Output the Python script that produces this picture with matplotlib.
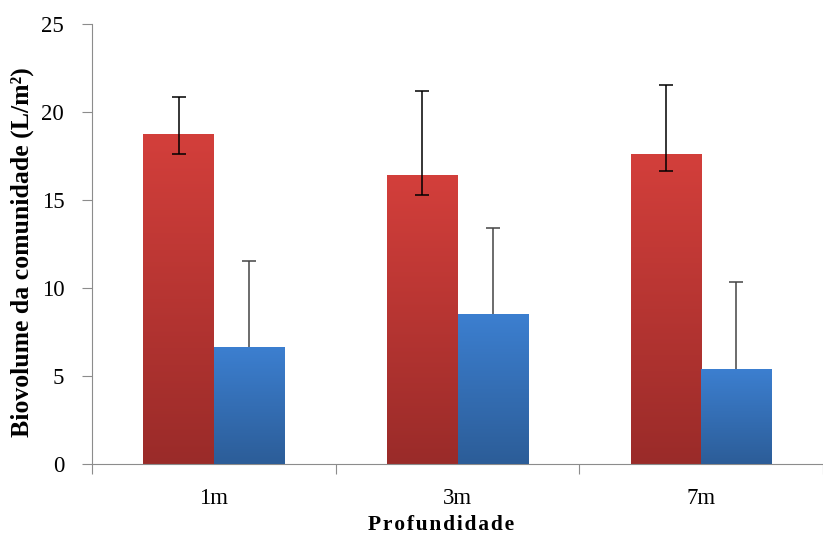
import numpy as np
import matplotlib.pyplot as plt
from matplotlib.colors import LinearSegmentedColormap

categories = ["1m", "3m", "7m"]
red_vals = [18.7, 16.4, 17.6]
red_err_lo = [1.1, 1.1, 0.95]
red_err_hi = [2.15, 4.8, 3.95]
blue_vals = [6.6, 8.5, 5.35]
blue_err_hi = [4.95, 4.9, 5.0]

plt.rcParams['font.family'] = ['Liberation Serif', 'DejaVu Serif']

fig = plt.figure(figsize=(8.23, 5.35), dpi=100)
ax = fig.add_axes([92 / 823, 1 - 464 / 535, 731 / 823, 440 / 535])

x = np.arange(len(categories))
w = 0.29

red_bars = ax.bar(x - w / 2, red_vals, w, color='none', zorder=2)
blue_bars = ax.bar(x + w / 2, blue_vals, w, color='none', zorder=4)

red_cmap = LinearSegmentedColormap.from_list('r', ['#9a2b29', '#d33f3b'])
blue_cmap = LinearSegmentedColormap.from_list('b', ['#2c5d98', '#3c7fd0'])
grad = np.linspace(0, 1, 256).reshape(-1, 1)


def fill_gradient(bars, cmap, z):
    for b in bars:
        x0, y0 = b.get_x(), b.get_y()
        x1, y1 = x0 + b.get_width(), y0 + b.get_height()
        ax.imshow(grad, cmap=cmap, origin='lower', aspect='auto',
                  extent=[x0, x1, y0, y1], zorder=z, interpolation='bicubic')


fill_gradient(red_bars, red_cmap, 2)
fill_gradient(blue_bars, blue_cmap, 4)

ax.errorbar(x - w / 2, red_vals, yerr=[red_err_lo, red_err_hi], fmt='none',
            ecolor='black', elinewidth=1.1, capsize=5, capthick=1.1, zorder=3)
# plus-only bars: drop the lower cap
_, caps, _ = ax.errorbar(x + w / 2, blue_vals, yerr=[[0] * 3, blue_err_hi], fmt='none',
                         ecolor='#444444', elinewidth=1.1, capsize=5, capthick=1.1,
                         zorder=3.5)
caps[0].set_visible(False)

ax.set_xlim(-0.5, 2.5)
ax.set_ylim(0, 25)
ax.set_yticks(range(0, 26, 5))
ax.set_xticks([-0.5, 0.5, 1.5, 2.5])
ax.set_xticklabels([])
ax.set_xticks(x, minor=True)
ax.set_xticklabels(categories, minor=True)

for s in ['top', 'right']:
    ax.spines[s].set_visible(False)
for s in ['left', 'bottom']:
    ax.spines[s].set_color('#8c8c8c')

ax.tick_params(axis='y', which='major', direction='out', length=7, color='#8c8c8c',
               labelsize=16.5, pad=13)
ax.tick_params(axis='x', which='major', direction='out', length=7, color='#8c8c8c')
ax.tick_params(axis='x', which='minor', length=0, labelsize=16.5, pad=17)

ax.set_ylabel('Biovolume da comunidade (L/m²)', fontsize=18.5, fontweight='bold')
ax.yaxis.set_label_coords(-0.079, 0.482)
ax.set_xlabel('\u200a'.join('Profundidade'), fontsize=15.5, fontweight='bold')
ax.xaxis.set_label_coords(0.478, -0.116)

fig.savefig('out.png', dpi=100)
